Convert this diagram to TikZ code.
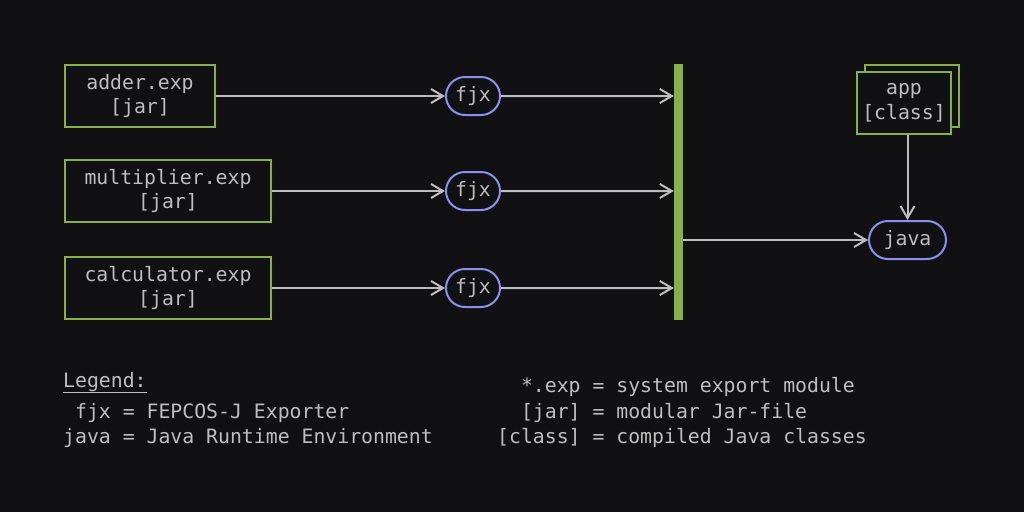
\documentclass[tikz,border=0pt]{standalone}
\usepackage{fontspec}
\setmonofont{DejaVu Sans Mono}
\usetikzlibrary{arrows.meta,shapes.misc}
\definecolor{bg}{HTML}{111113}
\definecolor{expgreen}{HTML}{86B04A}
\definecolor{toolblue}{HTML}{8C90EE}
\definecolor{txtgray}{HTML}{BEBEBE}
\begin{document}
\begin{tikzpicture}[x=1pt,y=-1pt,
    every node/.style={font=\ttfamily\fontsize{19.8}{24.5}\selectfont, text=txtgray},
    expbox/.style={draw=expgreen, line width=2pt, align=center, inner sep=0pt, fill=bg},
    tool/.style={draw=toolblue, line width=2pt, rounded rectangle, inner sep=0pt, minimum height=38pt},
    flow/.style={draw=txtgray, line width=2pt, -{Straight Barb[length=12pt,width=14pt]}},
    legendtext/.style={anchor=base west, inner sep=0pt}]

    %background and size
    \fill[bg] (0,0) rectangle (1024,512);
    \useasboundingbox (0,0) rectangle (1024,512);

    %exported modules
    \node[expbox, minimum width=150pt, minimum height=62pt] (adder) at (140,96) {adder.exp\\{[jar]}};
    \node[expbox, minimum width=206pt, minimum height=62pt] (multiplier) at (168,191) {multiplier.exp\\{[jar]}};
    \node[expbox, minimum width=206pt, minimum height=62pt] (calculator) at (168,288) {calculator.exp\\{[jar]}};

    %exporters
    \node[tool, minimum width=54pt] (fjxA) at (473,96) {fjx};
    \node[tool, minimum width=54pt] (fjxB) at (473,191) {fjx};
    \node[tool, minimum width=54pt] (fjxC) at (473,288) {fjx};

    %module path bar
    \node[fill=expgreen, inner sep=0pt, minimum width=9pt, minimum height=256pt] (bus) at (678.5,192) {};

    %application and runtime
    \node[expbox, minimum width=94pt, minimum height=62pt] (appback) at (912,96) {};
    \node[expbox, minimum width=94pt, minimum height=62pt] (app) at (904,103) {app\\{[class]}};
    \node[tool, minimum width=77pt] (java) at (907.5,240) {java};

    %connections
    \draw[flow] (adder) -- (fjxA);
    \draw[flow] (multiplier) -- (fjxB);
    \draw[flow] (calculator) -- (fjxC);
    \draw[flow] (fjxA) -- (fjxA -| bus.west);
    \draw[flow] (fjxB) -- (fjxB -| bus.west);
    \draw[flow] (fjxC) -- (fjxC -| bus.west);
    \draw[flow] (bus.east |- java) -- (java);
    \draw[flow] (app.south -| java) -- (java);

    %legend
    \node[legendtext] (legend) at (63,387) {\underline{Legend:}};
    \node[legendtext] (legfjx) at (63,418) {~fjx = FEPCOS-J Exporter};
    \node[legendtext] (legjava) at (63,443) {java = Java Runtime Environment};
    \node[legendtext] (legexp) at (497,392) {~~*.exp = system export module};
    \node[legendtext] (legjar) at (497,418) {~~[jar] = modular Jar-file};
    \node[legendtext] (legclass) at (497,443) {[class] = compiled Java classes};
\end{tikzpicture}
\end{document}
